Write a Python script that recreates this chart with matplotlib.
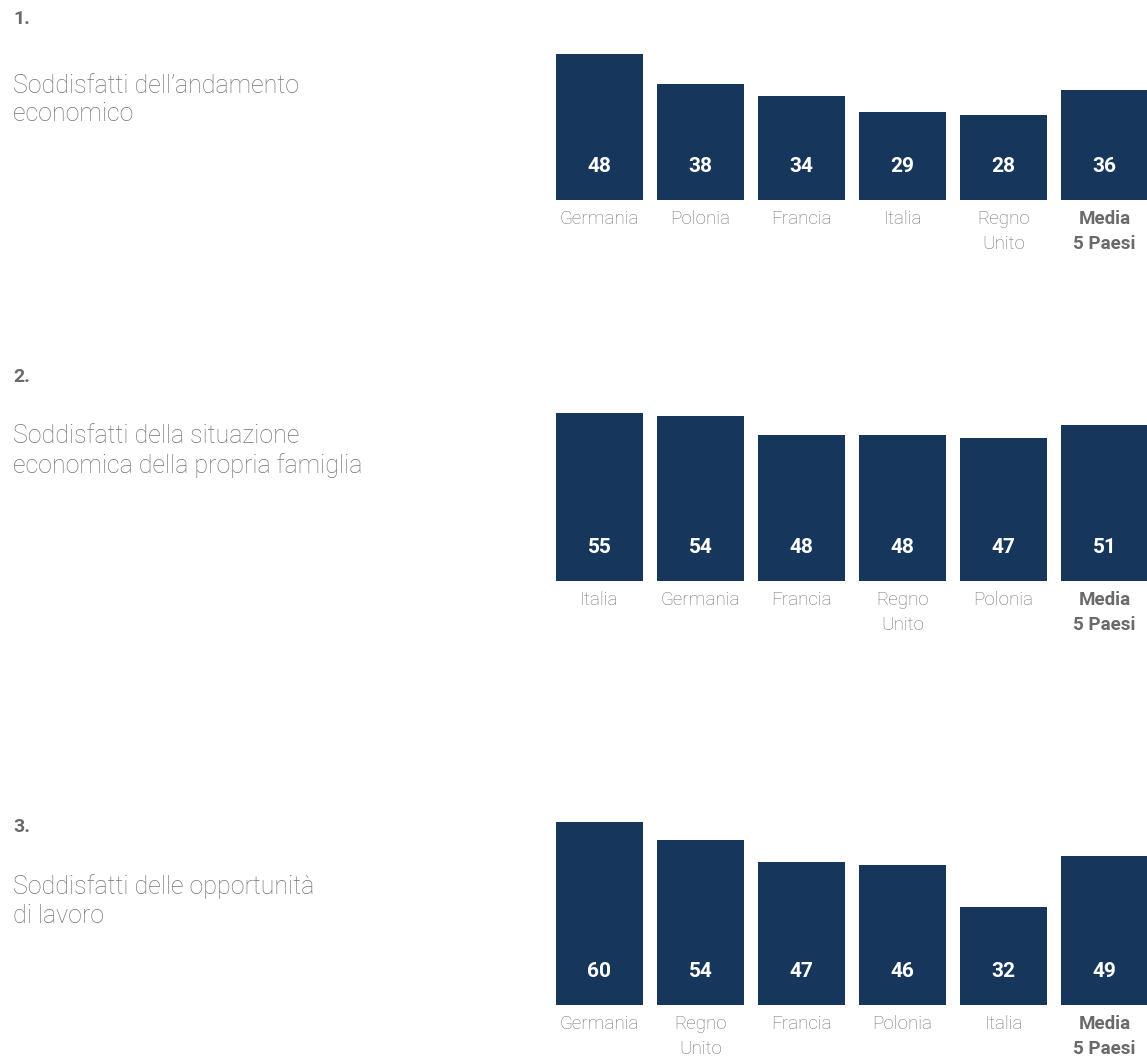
import matplotlib
matplotlib.use("Agg")
import matplotlib.pyplot as plt

# survey results, one block per question
titles = ["1.", "2.", "3."]
subtitles = [
    "Soddisfatti dell\u2019andamento\neconomico",
    "Soddisfatti della situazione\neconomica della propria famiglia",
    "Soddisfatti delle opportunit\u00e0\ndi lavoro",
]
labels_1 = ["Germania", "Polonia", "Francia", "Italia", "Regno\nUnito", "Media\n5 Paesi"]
values_1 = [48, 38, 34, 29, 28, 36]
labels_2 = ["Italia", "Germania", "Francia", "Regno\nUnito", "Polonia", "Media\n5 Paesi"]
values_2 = [55, 54, 48, 48, 47, 51]
labels_3 = ["Germania", "Regno\nUnito", "Francia", "Polonia", "Italia", "Media\n5 Paesi"]
values_3 = [60, 54, 47, 46, 32, 49]

NAVY = "#17365c"
GREY = "#737373"
DARK_GREY = "#6a6a6a"
FONT = ["Roboto", "DejaVu Sans"]

W, H = 1147, 1059
fig = plt.figure(figsize=(W / 100, H / 100), dpi=100)
fig.patch.set_facecolor("white")

# pixel layout of each block: title y, subtitle y, bar baseline y
blocks = [
    (titles[0], subtitles[0], labels_1, values_1, 19, 100, 200),
    (titles[1], subtitles[1], labels_2, values_2, 377, 451, 581),
    (titles[2], subtitles[2], labels_3, values_3, 827, 901, 1005),
]

YMAX = 65
PX_PER_UNIT = 3.05
x_left, x_right = 556, 1148

for num, sub, labels, values, ty, sy, base in blocks:
    fig.text(13 / W, 1 - ty / H, num, family=FONT, fontsize=14, fontweight="bold",
             color=DARK_GREY, va="center", ha="left")
    fig.text(13 / W, 1 - sy / H, sub, family=FONT, fontsize=18, fontweight="light",
             color=GREY, va="center", ha="left", linespacing=1.22)

    h = YMAX * PX_PER_UNIT
    ax = fig.add_axes([x_left / W, 1 - base / H, (x_right - x_left) / W, h / H])
    xs = range(len(values))
    ax.bar(xs, values, width=0.86, color=NAVY)
    ax.set_xlim(-0.43, len(values) - 0.57)
    ax.set_ylim(0, YMAX)
    ax.axis("off")

    for i, v in enumerate(values):
        ax.annotate(str(v), xy=(i, 0), xytext=(0, 24), textcoords="offset points",
                    ha="center", va="center", color="white", fontsize=15,
                    fontweight="bold", family=FONT)
        last = i == len(values) - 1
        ax.annotate(labels[i], xy=(i, 0), xytext=(0, -7), textcoords="offset points",
                    ha="center", va="top", fontsize=13.5, linespacing=1.55,
                    color=DARK_GREY if last else GREY,
                    fontweight="bold" if last else "light", family=FONT)

fig.savefig("out.png", dpi=100, facecolor="white")
